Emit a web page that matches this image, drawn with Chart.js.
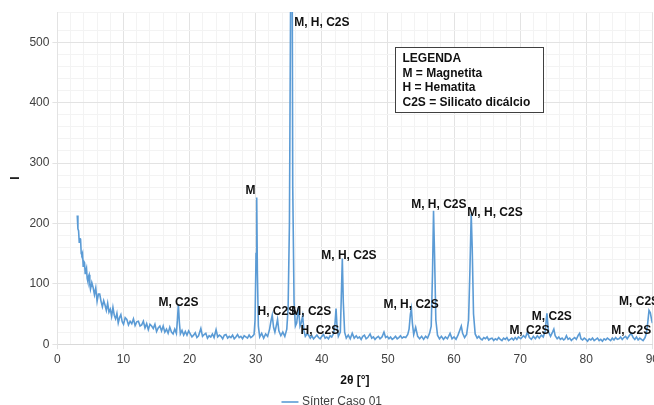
<!DOCTYPE html>
<html>
<head>
<meta charset="utf-8">
<script src="https://cdn.jsdelivr.net/npm/chart.js@4"></script>
<style>
  html, body { margin: 0; padding: 0; background: #fff; overflow: hidden; }
  #wrap { position: absolute; left: 0; top: 0; width: 662px; height: 418px; }
</style>
</head>
<body>
<div id="wrap"><canvas id="chart" width="662" height="418"></canvas></div>
<script>
// scan, [2θ, I]
const scanLow = [
  [3.0,213],[3.1,191],[3.2,188],[3.3,169],[3.4,175],[3.5,174],[3.6,150],[3.7,148],[3.8,151],[3.9,129],
  [4.0,137],[4.1,135],[4.2,117],[4.3,122],[4.4,126],[4.5,109],[4.6,104],[4.7,112],[4.8,115],[4.9,99],
  [5.0,91],[5.2,102],[5.4,94],[5.6,82],[5.8,93],[6.0,71],[6.2,83],[6.4,83],[6.6,71],[6.8,62],
  [7.0,72],[7.2,65],[7.4,56],[7.6,68],[7.8,53],[8.0,58],[8.2,46],[8.4,61],[8.6,48],[8.8,42],
  [9.0,51],[9.2,35],[9.4,44],[9.6,49],[9.8,37],[10.0,33],[10.25,44],[10.5,41],[10.75,32],[11.0,38],
  [11.25,34],[11.5,42],[11.75,31],[12.0,37],[12.25,38],[12.5,30],[12.75,32],[13.0,38],[13.25,27],[13.5,34],
  [13.75,24],[14.0,33],[14.25,30],[14.5,26],[14.75,33],[15.0,21],[15.25,27],[15.5,30],[15.75,22],[16.0,30],
  [16.25,20],[16.5,25],[16.75,18],[17.0,28],[17.25,20],[17.5,17],[17.75,25],[18.0,18],[18.15,40],[18.3,66],
  [18.45,36],[18.6,17],[18.85,23],[19.1,15],[19.35,21],[19.6,15],[19.85,22]
];
const scanMid = [
  [20.1,17],[20.35,12],[20.6,15],[20.85,19],[21.1,11],[21.35,14],[21.7,26],[21.95,13],[22.2,16],[22.45,18],
  [22.7,10],[22.95,14],[23.2,12],[23.45,17],[23.7,11],[24.0,24],[24.25,12],[24.5,15],[24.75,13],[25.0,9],
  [25.25,15],[25.5,16],[25.75,10],[26.0,13],[26.25,11],[26.5,15],[26.75,9],[27.0,12],[27.25,16],[27.5,11],
  [27.75,13],[28.0,9],[28.25,14],[28.5,12],[28.75,10],[29.0,15],[29.25,11],[29.5,13],[29.75,16],[29.9,40],
  [30.05,150],[30.15,243],[30.25,120],[30.4,30],[30.6,12],[30.9,18],[31.2,10],[31.5,17],[31.8,13],[32.1,25],
  [32.3,38],[32.5,48],[32.7,28],[32.9,20],[33.1,30],[33.3,41],[33.5,22],[33.8,14],[34.1,20],[34.4,13],
  [34.7,25],[34.9,60],[35.1,200],[35.3,620],[35.45,900],[35.6,260],[35.8,70],[36.0,30],[36.2,35],[36.45,61],
  [36.7,30],[36.9,36],[37.1,47],[37.3,22],[37.5,13],[37.75,17],[38.0,15],[38.25,10],[38.5,14],[38.75,9],
  [39.0,12],[39.25,15],[39.5,11],[39.75,9],[40.0,13],[40.25,16],[40.5,10],[40.75,12],[41.0,9],[41.25,14],
  [41.5,12],[41.8,18],[42.0,35],[42.15,59],[42.3,30],[42.5,13],[42.8,20],[42.95,80],[43.1,142],[43.25,70],
  [43.45,20],[43.7,10],[44.0,15],[44.3,9],[44.6,18],[44.9,10]
];
const scanHigh = [
  [45.2,14],[45.45,10],[45.7,12],[45.95,8],[46.2,13],[46.45,15],[46.7,9],[46.95,11],[47.3,17],[47.55,10],
  [47.8,12],[48.05,8],[48.3,11],[48.55,13],[48.8,9],[49.1,12],[49.4,20],[49.65,11],[49.9,13],[50.15,9],
  [50.4,12],[50.65,8],[50.9,10],[51.15,13],[51.4,9],[51.65,11],[51.9,14],[52.15,10],[52.4,12],[52.7,11],
  [53.0,16],[53.2,25],[53.4,50],[53.55,59],[53.7,35],[53.9,16],[54.2,28],[54.5,13],[54.8,9],[55.1,13],
  [55.4,8],[55.7,13],[56.0,10],[56.3,18],[56.55,30],[56.75,120],[56.9,221],[57.05,150],[57.25,40],[57.5,15],
  [57.8,9],[58.1,13],[58.4,8],[58.7,12],[59.0,9],[59.4,18],[59.7,9],[60.0,12],[60.3,8],[60.6,15],
  [60.9,24],[61.1,30],[61.3,18],[61.6,11],[61.9,16],[62.2,40],[62.4,120],[62.6,216],[62.75,160],[62.95,50],
  [63.2,17],[63.5,10],[63.75,13],[64.0,9],[64.25,7],[64.5,11],[64.75,9],[65.0,12],[65.25,7],[65.5,9],
  [65.75,10],[66.0,6],[66.25,9],[66.5,7],[66.75,11],[67.0,8],[67.25,6],[67.5,10],[67.75,8],[68.0,11],
  [68.25,6],[68.5,8],[68.75,10],[69.0,7],[69.25,11],[69.5,8],[69.75,12],[70.1,9],[70.5,14],[70.8,11],
  [71.1,20],[71.4,11],[71.7,8],[72.0,13],[72.3,9],[72.6,14],[72.9,10],[73.2,15],[73.5,12],[73.8,22],
  [74.05,51],[74.3,20],[74.6,13],[74.9,20],[75.1,25],[75.3,14],[75.6,9],[75.85,12],[76.1,8],[76.35,10],
  [76.6,7],[76.8,9],[77.0,14],[77.25,8],[77.5,10],[77.75,6],[78.0,9],[78.25,11],[78.5,8],[78.8,15],
  [79.0,18],[79.2,9],[79.45,7],[79.7,10],[79.95,8],[80.2,5],[80.45,9],[80.7,7],[80.95,10],[81.2,6],
  [81.45,8],[81.7,10],[81.95,6],[82.2,8],[82.45,5],[82.7,9],[82.95,7],[83.2,10],[83.45,8],[83.7,6],
  [83.95,10],[84.2,7],[84.45,11],[84.7,8],[84.95,9],[85.2,12],[85.45,8],[85.7,11],[85.95,13],[86.2,9],
  [86.5,14],[86.8,18],[87.1,11],[87.35,8],[87.6,12],[87.85,7],[88.1,10],[88.35,8],[88.6,6],[88.9,11],
  [89.1,18],[89.3,35],[89.5,56],[89.7,52],[89.9,40],[90.0,35]
];

// peak labels: text, 2θ, I (centre of the text)
const peakLabels = [
  ['M, H, C2S', 40.0, 533],
  ['M', 29.2, 254],
  ['M, C2S', 18.3, 68],
  ['H, C2S', 33.2, 54],
  ['M, C2S', 38.4, 54],
  ['H, C2S', 39.7, 23],
  ['M, H, C2S', 44.1, 147],
  ['M, H, C2S', 53.5, 66],
  ['M, H, C2S', 57.7, 231],
  ['M, H, C2S', 66.2, 218],
  ['M, C2S', 71.4, 23],
  ['M, C2S', 74.8, 46],
  ['M, C2S', 86.8, 23],
  ['M, C2S', 88.0, 71]
];
const keyLines = ['LEGENDA', 'M = Magnetita', 'H = Hematita', 'C2S = Silicato dicálcio'];
// key box corners in data units
const keyBox = { x0: 51.1, x1: 73.5, y0: 492, y1: 385 };

const FONT = "'Liberation Sans', Arial, sans-serif";

const annotations = {
  id: 'annotations',
  afterDatasetsDraw(chart) {
    const { ctx, scales: { x, y } } = chart;
    ctx.save();
    ctx.font = 'bold 12px ' + FONT;
    ctx.fillStyle = '#111';
    ctx.textAlign = 'center';
    ctx.textBaseline = 'middle';
    peakLabels.forEach(([t, a, b]) => ctx.fillText(t, x.getPixelForValue(a), y.getPixelForValue(b)));

    const l = Math.round(x.getPixelForValue(keyBox.x0)) + 0.5;
    const r = Math.round(x.getPixelForValue(keyBox.x1)) + 0.5;
    const t = Math.round(y.getPixelForValue(keyBox.y0)) + 0.5;
    const bt = Math.round(y.getPixelForValue(keyBox.y1)) + 0.5;
    ctx.fillStyle = '#fff';
    ctx.fillRect(l, t, r - l, bt - t);
    ctx.strokeStyle = '#404040';
    ctx.lineWidth = 1;
    ctx.strokeRect(l, t, r - l, bt - t);
    ctx.fillStyle = '#111';
    ctx.textAlign = 'left';
    keyLines.forEach((s, i) => ctx.fillText(s, l + 7, t + 11 + i * 14.7));
    ctx.restore();
  }
};

const points = scanLow.concat(scanMid, scanHigh).map(([a, b]) => ({ x: a, y: b }));

new Chart(document.getElementById('chart'), {
  type: 'line',
  data: {
    datasets: [{
      label: 'Sínter Caso 01',
      data: points,
      borderColor: '#5b9bd5',
      backgroundColor: '#5b9bd5',
      borderWidth: 1.6,
      pointRadius: 0,
      tension: 0
    }]
  },
  options: {
    responsive: false,
    animation: false,
    devicePixelRatio: 1,
    layout: { padding: { top: 12, left: 4, right: 0, bottom: 0 } },
    plugins: {
      legend: {
        position: 'bottom',
        labels: { usePointStyle: true, pointStyle: 'line', boxWidth: 16, color: '#404040', font: { family: FONT, size: 12 }, padding: 8 }
      },
      tooltip: { enabled: false }
    },
    scales: {
      x: {
        type: 'linear',
        min: 0, max: 90,
        title: { display: true, text: '2θ [°]', color: '#111', font: { family: FONT, size: 12, weight: 'bold' }, padding: { top: 4, bottom: 0 } },
        ticks: {
          stepSize: 2, autoSkip: false, maxRotation: 0, color: '#404040', font: { family: FONT, size: 12 },
          callback: v => (v % 10 === 0 ? v : '')
        },
        grid: {
          color: c => (c.tick && c.tick.value % 10 === 0 ? '#e3e3e3' : '#f3f3f3'),
          tickColor: c => (c.tick && c.tick.value % 10 === 0 ? '#e3e3e3' : 'rgba(0,0,0,0)'),
          tickLength: 5
        },
        border: { color: '#d9d9d9' }
      },
      y: {
        min: 0, max: 550,
        title: { display: true, text: 'I', color: '#111', font: { family: FONT, size: 12, weight: 'bold' } },
        ticks: {
          stepSize: 20, autoSkip: false, color: '#404040', font: { family: FONT, size: 12 },
          callback: v => (v % 100 === 0 ? v : '')
        },
        grid: {
          color: c => (c.tick && c.tick.value % 100 === 0 ? '#e3e3e3' : '#f3f3f3'),
          tickColor: c => (c.tick && c.tick.value % 100 === 0 ? '#e3e3e3' : 'rgba(0,0,0,0)'),
          tickLength: 5
        },
        border: { color: '#e3e3e3' }
      }
    }
  },
  plugins: [annotations]
});
</script>
</body>
</html>
